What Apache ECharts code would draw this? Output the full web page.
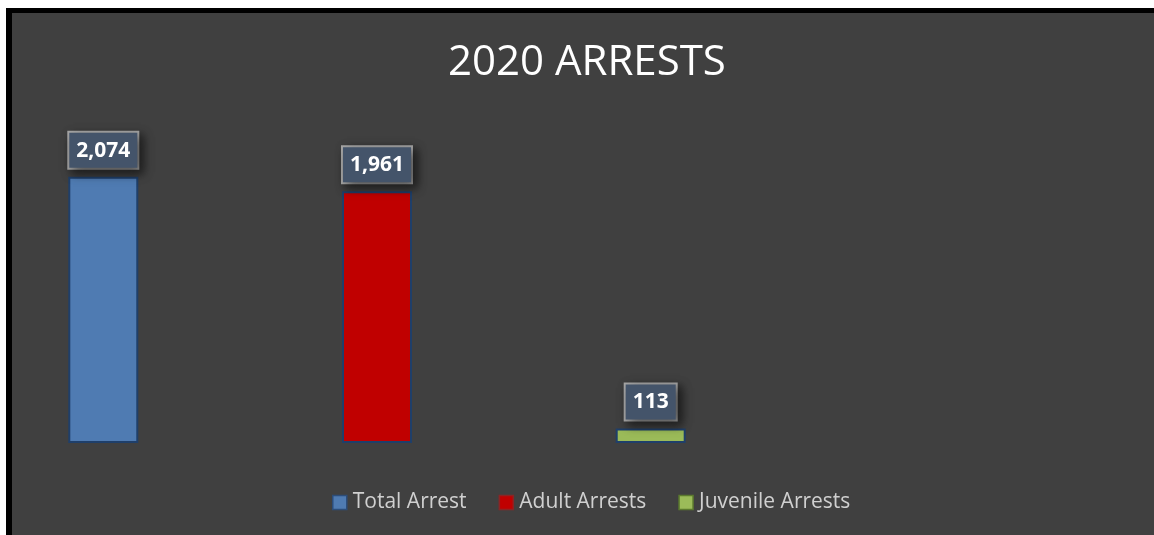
<!DOCTYPE html>
<html>
<head>
<meta charset="utf-8">
<script src="https://cdn.jsdelivr.net/npm/echarts@6/dist/echarts.min.js"></script>
<style>
    html, body { margin: 0; padding: 0; background: #fff; width: 1154px; height: 535px; overflow: hidden; }
    #frame { position: absolute; left: 6px; top: 8px; width: 1142px; height: 522px; background: #404040;
             border-left: 6px solid #000; border-top: 5px solid #000; }
    #chart { position: absolute; left: 0; top: 0; width: 1142px; height: 522px; }
</style>
</head>
<body>
<div id="frame"><div id="chart"></div></div>
<script>
const categories = ['2020']
const seriesNames = ['Total Arrest', 'Adult Arrests', 'Juvenile Arrests']
const seriesValues = [2074, 1961, 113]
const fillColors = ['#4f7bb2', '#c00000', '#9bbb59']
const legendBorders = ['#2c4d7a', '#8b2424', '#5b7a2e']

const myChart = echarts.init(document.getElementById('chart'))

const series = seriesNames.map((name, i) => ({
    name: name,
    type: 'bar',
    data: [seriesValues[i]],
    barWidth: 70,
    barGap: '291%',
    itemStyle: {
        color: fillColors[i],
        borderColor: '#1f3f6a',
        borderWidth: 2
    },
    label: {
        show: true,
        position: 'top',
        distance: 9,
        formatter: p => p.value.toLocaleString('en-US'),
        color: '#fff',
        fontFamily: 'Open Sans',
        fontWeight: 'bold',
        fontSize: 21,
        lineHeight: 24,
        backgroundColor: '#44546a',
        borderColor: '#a6a6a6',
        borderWidth: 2,
        padding: [6, 7, 5, 7],
        shadowColor: 'rgba(0,0,0,0.55)',
        shadowBlur: 10,
        shadowOffsetX: 4,
        shadowOffsetY: 4
    }
}))

const option = {
    backgroundColor: '#404040',
    animation: false,
    title: {
        text: '2020 ARRESTS',
        left: 431,
        top: 24,
        textStyle: {
            color: '#fff',
            fontFamily: 'Open Sans',
            fontWeight: 'normal',
            fontSize: 42
        }
    },
    legend: {
        left: 315,
        top: 474,
        icon: 'rect',
        itemWidth: 14,
        itemHeight: 14,
        itemGap: 32,
        textStyle: { color: '#d0d0d0', fontFamily: 'Open Sans', fontSize: 21, padding: [0, 0, 0, 1] },
        data: seriesNames.map((name, i) => ({
            name: name,
            itemStyle: { color: fillColors[i], borderColor: legendBorders[i], borderWidth: 1.5 }
        }))
    },
    grid: {
        left: 6,
        width: 718,
        top: 109,
        height: 321,
        containLabel: false
    },
    xAxis: {
        type: 'category',
        data: categories,
        show: false
    },
    yAxis: {
        type: 'value',
        min: 0,
        max: 2500,
        show: false,
        splitLine: { show: false }
    },
    series: series
}
myChart.setOption(option)
</script>
</body>
</html>
